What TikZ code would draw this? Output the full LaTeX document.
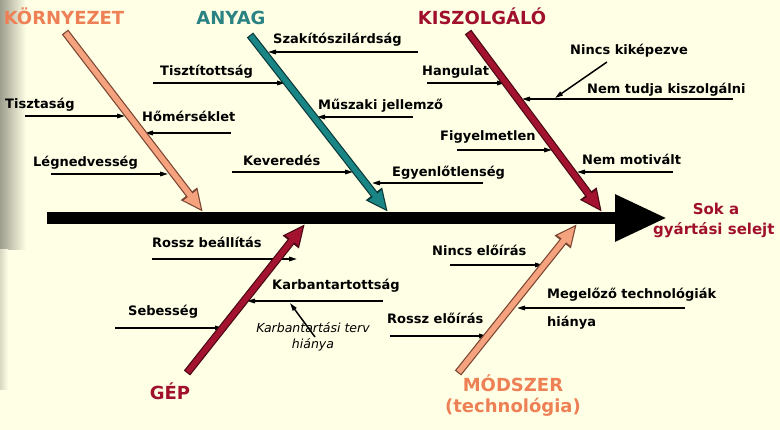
\documentclass[tikz,border=0pt]{standalone}
\usepackage{fontspec}
\setmainfont{DejaVu Sans}
\usetikzlibrary{arrows.meta}
\definecolor{bg}{HTML}{FFFFE6}
\definecolor{envfill}{HTML}{F5A37F}
\definecolor{envline}{HTML}{7A4530}
\definecolor{envtext}{HTML}{EE8055}
\definecolor{tealfill}{HTML}{1A8585}
\definecolor{tealline}{HTML}{0B3838}
\definecolor{tealtext}{HTML}{2A8282}
\definecolor{redfill}{HTML}{A3122F}
\definecolor{redline}{HTML}{4A0814}
\definecolor{redtext}{HTML}{A0102C}
\tikzset{
  cause/.style={font=\fontsize{13}{15}\selectfont\bfseries, inner sep=0pt, anchor=base west},
  catlabel/.style={font=\fontsize{18}{20}\selectfont\bfseries, inner sep=0pt, anchor=base},
  causeline/.style={line width=1.5pt, -{Triangle[length=8pt,width=4.5pt]}},
  spine/.style={line width=12pt, -{Triangle[length=52pt,width=44pt]}},
  boneout/.style={line width=8pt, draw=#1, -{Triangle[length=23pt,width=19pt]}},
  bonein/.style={line width=5.6pt, draw=#1, shorten <=1.2pt, shorten >=3pt, -{Triangle[length=18pt,width=15pt]}},
}
\newcommand{\myBone}[4]{%
  \draw[boneout=#3] (#1) -- (#2);
  \draw[bonein=#4] (#1) -- (#2);}
\begin{document}
\begin{tikzpicture}[x=1pt,y=-1pt]
\useasboundingbox (0,0) rectangle (780,430);
\fill[bg] (0,0) rectangle (780,430);
\shade[left color=black!38!bg, right color=bg] (0,0) rectangle (26,250);
\shade[left color=black!15!bg, right color=bg] (0,250) rectangle (8,390);

% spine
\coordinate (spineS) at (47,218);
\coordinate (spineE) at (667,218);
\draw[spine] (spineS) -- (spineE);
\node[font=\fontsize{15}{17}\selectfont\bfseries, text=redtext, inner sep=0pt, anchor=base] (effect1) at (716,215) {Sok a};
\node[font=\fontsize{15}{17}\selectfont\bfseries, text=redtext, inner sep=0pt, anchor=base west] (effect2) at (653,235) {gyártási selejt};

% category labels
\node[catlabel, text=envtext] (kornyezet) at (64,25) {KÖRNYEZET};
\node[catlabel, text=tealtext] (anyag) at (231,25) {ANYAG};
\node[catlabel, text=redtext] (kiszolgalo) at (482,25) {KISZOLGÁLÓ};
\node[catlabel, text=redtext] (gep) at (170,400) {GÉP};
\node[catlabel, text=envtext] (modszer) at (513,392) {MÓDSZER};
\node[catlabel, text=envtext] (technologia) at (513,413) {(technológia)};

% cause texts
\node[cause] (tisztasag) at (5,109) {Tisztaság};
\node[cause] (homerseklet) at (142,122) {Hőmérséklet};
\node[cause] (legnedvesseg) at (33,167) {Légnedvesség};
\node[cause] (tisztitottsag) at (160,76) {Tisztítottság};
\node[cause] (szakito) at (273,44) {Szakítószilárdság};
\node[cause] (muszaki) at (318,110) {Műszaki jellemző};
\node[cause] (keveredes) at (243,166) {Keveredés};
\node[cause] (egyenlotlenseg) at (392,177) {Egyenlőtlenség};
\node[cause] (hangulat) at (422,76) {Hangulat};
\node[cause] (nincskikep) at (570,55) {Nincs kiképezve};
\node[cause] (nemtudja) at (587,94) {Nem tudja kiszolgálni};
\node[cause] (figyelmetlen) at (440,141) {Figyelmetlen};
\node[cause] (nemmotivalt) at (582,165) {Nem motivált};
\node[cause] (rosszbeall) at (152,248) {Rossz beállítás};
\node[cause] (karbantartottsag) at (272,290) {Karbantartottság};
\node[cause] (sebesseg) at (128,316) {Sebesség};
\node[font=\fontsize{12.5}{16}\selectfont\itshape, inner sep=0pt, align=center, anchor=base] (kterv) at (313,349) {Karbantartási terv\\hiánya};
\node[cause] (nincseloiras) at (432,256) {Nincs előírás};
\node[cause] (megelozo) at (547,299) {Megelőző technológiák};
\node[cause] (hianya) at (547,327) {hiánya};
\node[cause] (rosszeloiras) at (387,324) {Rossz előírás};

% cause line end points
\coordinate (a1) at (25,116);  \coordinate (b1) at (125,116);
\coordinate (a2) at (231,133); \coordinate (b2) at (145,133);
\coordinate (a3) at (51,174);  \coordinate (b3) at (168,174);
\coordinate (a4) at (153,83);  \coordinate (b4) at (285,83);
\coordinate (a5) at (418,52);  \coordinate (b5) at (268,52);
\coordinate (a6) at (413,117); \coordinate (b6) at (317,117);
\coordinate (a7) at (232,172); \coordinate (b7) at (353,172);
\coordinate (a8) at (483,183); \coordinate (b8) at (372,183);
\coordinate (a9) at (427,83);  \coordinate (b9) at (505,83);
\coordinate (a10) at (607,62); \coordinate (b10) at (555,98);
\coordinate (a11) at (733,99); \coordinate (b11) at (522,99);
\coordinate (a12) at (457,150); \coordinate (b12) at (552,150);
\coordinate (a13) at (673,172); \coordinate (b13) at (577,172);
\coordinate (a14) at (152,259); \coordinate (b14) at (297,259);
\coordinate (a15) at (383,301); \coordinate (b15) at (247,301);
\coordinate (a16) at (115,328); \coordinate (b16) at (223,328);
\coordinate (a17) at (315,337); \coordinate (b17) at (290,303);
\coordinate (a18) at (450,265); \coordinate (b18) at (543,265);
\coordinate (a19) at (685,308); \coordinate (b19) at (517,308);
\coordinate (a20) at (390,336); \coordinate (b20) at (487,336);

\foreach \i in {1,...,20} {\draw[causeline] (a\i) -- (b\i);}

% bones
\coordinate (kS) at (65,32);   \coordinate (kE) at (203,212);
\coordinate (aS) at (250,35);  \coordinate (aE) at (388,212);
\coordinate (sS) at (468,32);  \coordinate (sE) at (602,212);
\coordinate (gS) at (187,373); \coordinate (gE) at (305,224);
\coordinate (mS) at (458,373); \coordinate (mE) at (577,224);
\myBone{kS}{kE}{envline}{envfill}
\myBone{aS}{aE}{tealline}{tealfill}
\myBone{sS}{sE}{redline}{redfill}
\myBone{gS}{gE}{redline}{redfill}
\myBone{mS}{mE}{envline}{envfill}
\end{tikzpicture}
\end{document}
